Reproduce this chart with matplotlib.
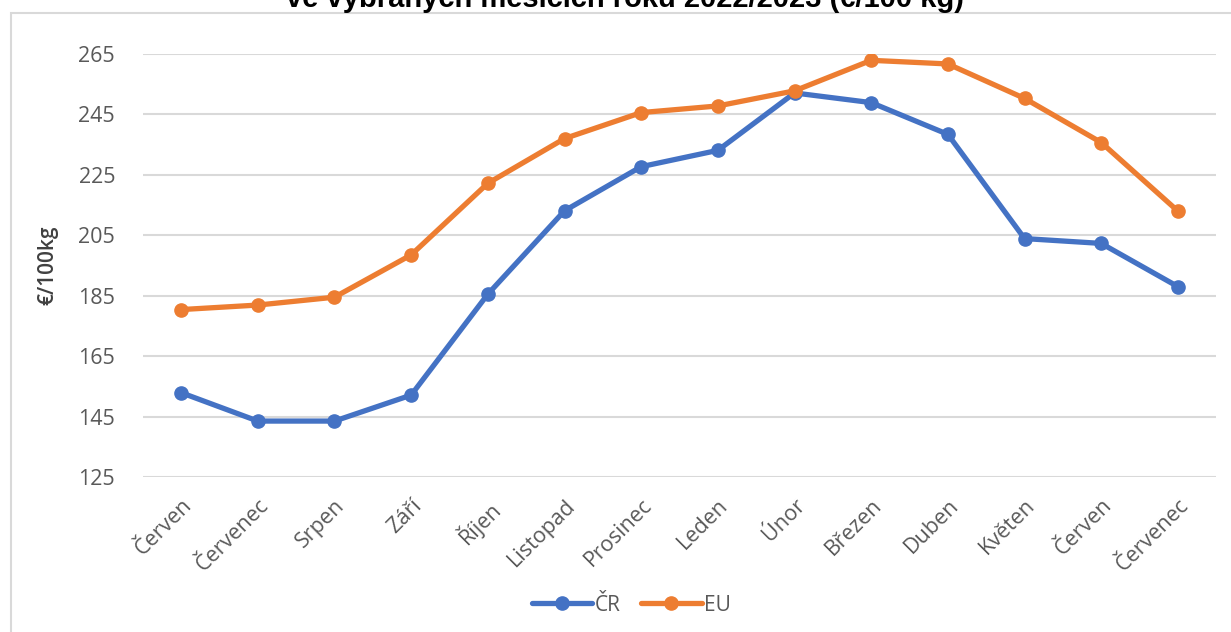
import matplotlib
matplotlib.use('Agg')
import matplotlib.pyplot as plt
from matplotlib.patches import Rectangle

# Data: monthly prices (€/100 kg), June 2022 - July 2023
mesice = ['Červen', 'Červenec', 'Srpen', 'Září', 'Říjen', 'Listopad', 'Prosinec',
          'Leden', 'Únor', 'Březen', 'Duben', 'Květen', 'Červen', 'Červenec']
cr = [152.9, 143.5, 143.5, 152.1, 185.5, 213.1, 227.7,
      233.1, 252.1, 248.9, 238.4, 203.9, 202.3, 188.0]
eu = [180.4, 181.9, 184.5, 198.5, 222.2, 237.0, 245.6,
      247.8, 252.8, 262.9, 261.7, 250.3, 235.7, 213.0]
y_ticks = [125, 145, 165, 185, 205, 225, 245, 265]

plt.rcParams['font.family'] = ['Open Sans', 'DejaVu Sans']
seda = '#595959'

fig = plt.figure(figsize=(12.31, 6.32), dpi=100)
ax = fig.add_axes([0.116, 0.2453, 0.872, 0.6693])

x = list(range(len(mesice)))
ax.plot(x, cr, color='#4472C4', lw=3.8, marker='o', ms=9.5, label='ČR',
        solid_capstyle='round')
ax.plot(x, eu, color='#ED7D31', lw=3.8, marker='o', ms=9.5, label='EU',
        solid_capstyle='round')

ax.set_xlim(-0.5, len(mesice) - 0.5)
ax.set_ylim(125, 265)
ax.set_yticks(y_ticks)
ax.set_xticks(x)
ax.set_xticklabels(mesice, rotation=45, ha='right', rotation_mode='anchor')
ax.tick_params(axis='both', length=0, labelsize=15.5, labelcolor=seda)
ax.tick_params(axis='y', pad=20)
ax.tick_params(axis='x', pad=13)
ax.grid(axis='y', color='#D9D9D9', lw=1.5)
ax.set_axisbelow(True)
for s in ax.spines.values():
    s.set_visible(False)

ax.set_ylabel('€/100kg', fontsize=15, color='#404040', fontweight='semibold',
              labelpad=14)

ax.legend(loc='center', bbox_to_anchor=(0.455, -0.303), ncol=2, frameon=False,
          fontsize=15, labelcolor=seda, handlelength=2.9, handletextpad=0.1,
          columnspacing=1.0)

# chart border (cut off at right and bottom in the original screenshot)
fig.patches.append(Rectangle((11 / 1231, -0.1), 1.2, 1 - 12.5 / 632 + 0.1,
                             transform=fig.transFigure, fill=False,
                             edgecolor='#D9D9D9', lw=1.5))

fig.text(0.508, 1 - 7 / 632, 've vybraných měsících roku 2022/2023 (€/100 kg)',
         ha='center', va='baseline', fontsize=21, fontweight='bold',
         family='Liberation Sans', color='black')

fig.savefig('out.png', dpi=100)
